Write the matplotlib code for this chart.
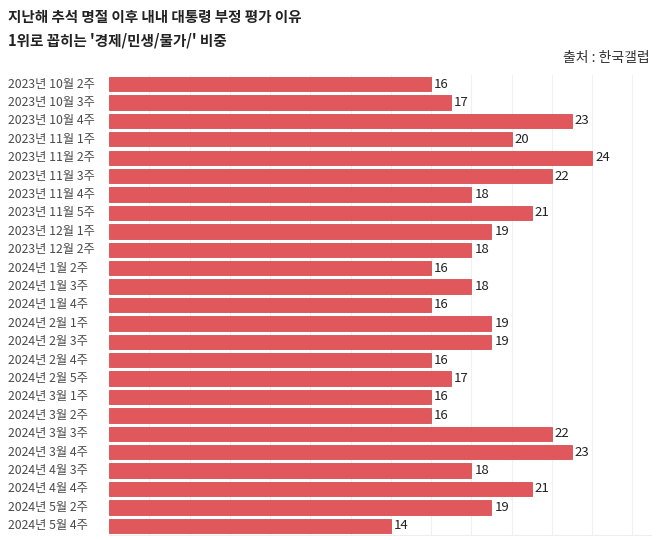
import matplotlib.pyplot as plt
import matplotlib.transforms as mtransforms

plt.rcParams['font.family'] = ['Noto Sans CJK KR', 'DejaVu Sans']

# 조사 주차별 비중 (%)
weeks = ['2023년 10월 2주', '2023년 10월 3주', '2023년 10월 4주', '2023년 11월 1주',
         '2023년 11월 2주', '2023년 11월 3주', '2023년 11월 4주', '2023년 11월 5주',
         '2023년 12월 1주', '2023년 12월 2주', '2024년 1월 2주', '2024년 1월 3주',
         '2024년 1월 4주', '2024년 2월 1주', '2024년 2월 3주', '2024년 2월 4주',
         '2024년 2월 5주', '2024년 3월 1주', '2024년 3월 2주', '2024년 3월 3주',
         '2024년 3월 4주', '2024년 4월 3주', '2024년 4월 4주', '2024년 5월 2주',
         '2024년 5월 4주']
values = [16, 17, 23, 20, 24, 22, 18, 21, 19, 18, 16, 18, 16, 19, 19, 16,
          17, 16, 16, 22, 23, 18, 21, 19, 14]

fig = plt.figure(figsize=(6.58, 5.4), dpi=100)
ax = fig.add_axes([0.166, 0.0093, 0.824, 0.852])

y = list(range(len(weeks)))
ax.barh(y, values, height=0.78, color='#e0585c', edgecolor='#d64e53', linewidth=0.6, zorder=2)

for yi, v in zip(y, values):
    ax.text(v + 0.15, yi, str(v), va='center', ha='left', fontsize=9.5, color='#222222')

ax.set_xlim(0, 26.95)
ax.set_ylim(len(weeks) - 0.5, -0.5)
ax.set_xticks(range(2, 27, 2))
ax.grid(axis='x', color='#f0f0f0', linewidth=0.8, zorder=0)
ax.tick_params(left=False, bottom=False, labelbottom=False, labelleft=False)
for side in ['top', 'right', 'left']:
    ax.spines[side].set_visible(False)
ax.spines['bottom'].set_color('#eeeeee')

# 왼쪽 정렬된 항목 이름
trans = mtransforms.blended_transform_factory(fig.transFigure, ax.transData)
for yi, w in zip(y, weeks):
    ax.text(8 / 658, yi, w, transform=trans, va='center', ha='left', fontsize=8.8, color='#4a4a4a')

fig.text(8 / 658, 1 - 17 / 540, '지난해 추석 명절 이후 내내 대통령 부정 평가 이유',
         fontsize=10.5, fontweight='bold', color='#222222', va='center', ha='left')
fig.text(8 / 658, 1 - 40 / 540, "1위로 꼽히는 '경제/민생/물가/' 비중",
         fontsize=10.5, fontweight='bold', color='#222222', va='center', ha='left')
fig.text(650 / 658, 1 - 58 / 540, '출처 : 한국갤럽', fontsize=10, color='#333333',
         va='center', ha='right')

fig.savefig('out.png', dpi=100)
